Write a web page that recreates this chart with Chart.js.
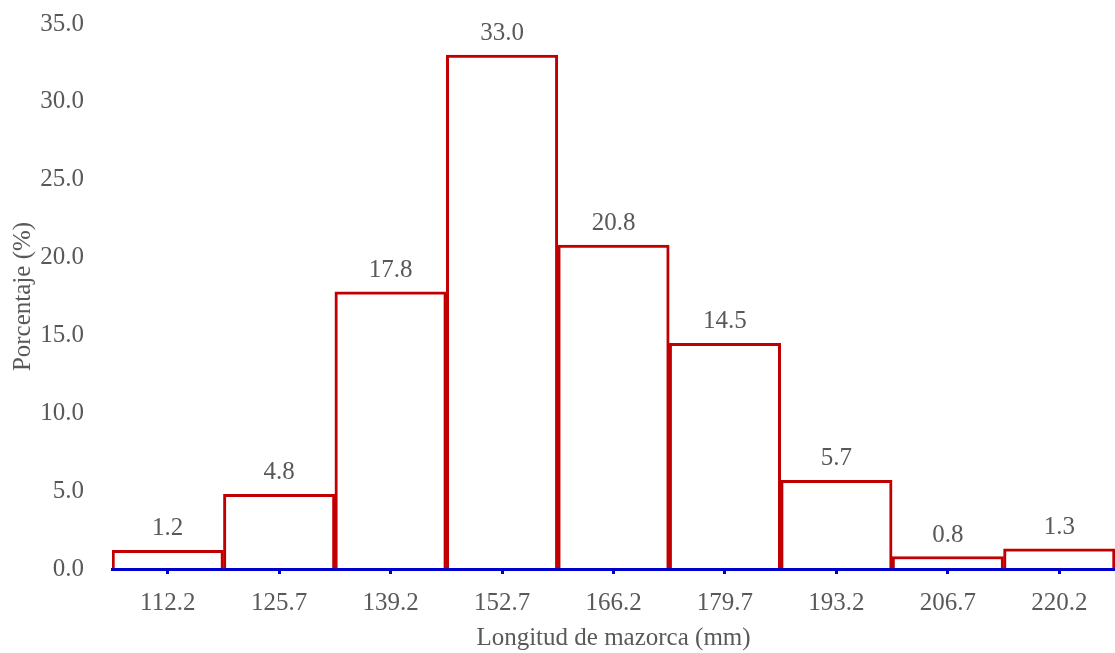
<!DOCTYPE html>
<html>
<head>
<meta charset="utf-8">
<script src="https://cdn.jsdelivr.net/npm/chart.js@4"></script>
<style>
  html, body { margin: 0; padding: 0; background: #fff; }
  #wrap { width: 1115px; height: 653px; }
</style>
</head>
<body>
<div id="wrap"><canvas id="Chart"></canvas></div>
<script>
// class marks (mm) and percentages
const classMarks = ['112.2', '125.7', '139.2', '152.7', '166.2', '179.7', '193.2', '206.7', '220.2'];
const percentages = [1.2, 4.8, 17.8, 33.0, 20.8, 14.5, 5.7, 0.8, 1.3];
const yTicks = [0, 5, 10, 15, 20, 25, 30, 35];

const textColor = '#595959';
const fontFamily = '"Liberation Serif", "Times New Roman", serif';
const fontSize = 25;

// draws the value above each bar
const valueLabels = {
    id: 'valueLabels',
    afterDatasetsDraw(chart) {
        const ctx = chart.ctx;
        const meta = chart.getDatasetMeta(0);
        ctx.save();
        ctx.font = fontSize + 'px ' + fontFamily;
        ctx.fillStyle = textColor;
        ctx.textAlign = 'center';
        ctx.textBaseline = 'bottom';
        meta.data.forEach((bar, i) => {
            ctx.fillText(percentages[i].toFixed(1), bar.x, bar.y - 9);
        });
        ctx.restore();
    }
};

const BarChart = document.getElementById('Chart');
const chart = new Chart(BarChart, {
    type: 'bar',
    data: {
        labels: classMarks,
        datasets: [{
            label: 'Porcentaje',
            data: percentages,
            backgroundColor: '#ffffff',
            borderColor: '#c00000',
            borderWidth: 3,
            borderSkipped: 'bottom',
            categoryPercentage: 1,
            barPercentage: 1
        }]
    },
    options: {
        responsive: true,
        maintainAspectRatio: false,
        animation: false,
        layout: { padding: { left: 8, top: 24, right: 0, bottom: 0 } },
        plugins: {
            legend: { display: false },
            tooltip: { enabled: false }
        },
        scales: {
            x: {
                border: { display: true, color: '#0000cc', width: 3, z: 1 },
                grid: {
                    display: true,
                    drawOnChartArea: false,
                    offset: false,
                    tickLength: 5,
                    tickWidth: 3,
                    tickColor: '#0000cc'
                },
                ticks: {
                    color: textColor,
                    font: { family: fontFamily, size: fontSize },
                    padding: 14,
                    maxRotation: 0
                },
                title: {
                    display: true,
                    text: 'Longitud de mazorca (mm)',
                    color: textColor,
                    font: { family: fontFamily, size: fontSize },
                    padding: { top: 6, bottom: 0 }
                },
                afterFit(scale) { scale.height = 84; }
            },
            y: {
                min: 0,
                max: 35,
                border: { display: false },
                grid: { display: false },
                afterBuildTicks(scale) {
                    scale.ticks = yTicks.map(v => ({ value: v }));
                },
                ticks: {
                    color: textColor,
                    font: { family: fontFamily, size: fontSize },
                    padding: 20,
                    callback: v => Number(v).toFixed(1)
                },
                title: {
                    display: true,
                    text: 'Porcentaje (%)',
                    color: textColor,
                    font: { family: fontFamily, size: fontSize },
                    padding: { top: 0, bottom: 0 }
                },
                afterFit(scale) {
                    scale.width = 104;
                    scale.paddingTop = 0;
                    scale.paddingBottom = 0;
                }
            }
        }
    },
    plugins: [valueLabels]
});
</script>
</body>
</html>
